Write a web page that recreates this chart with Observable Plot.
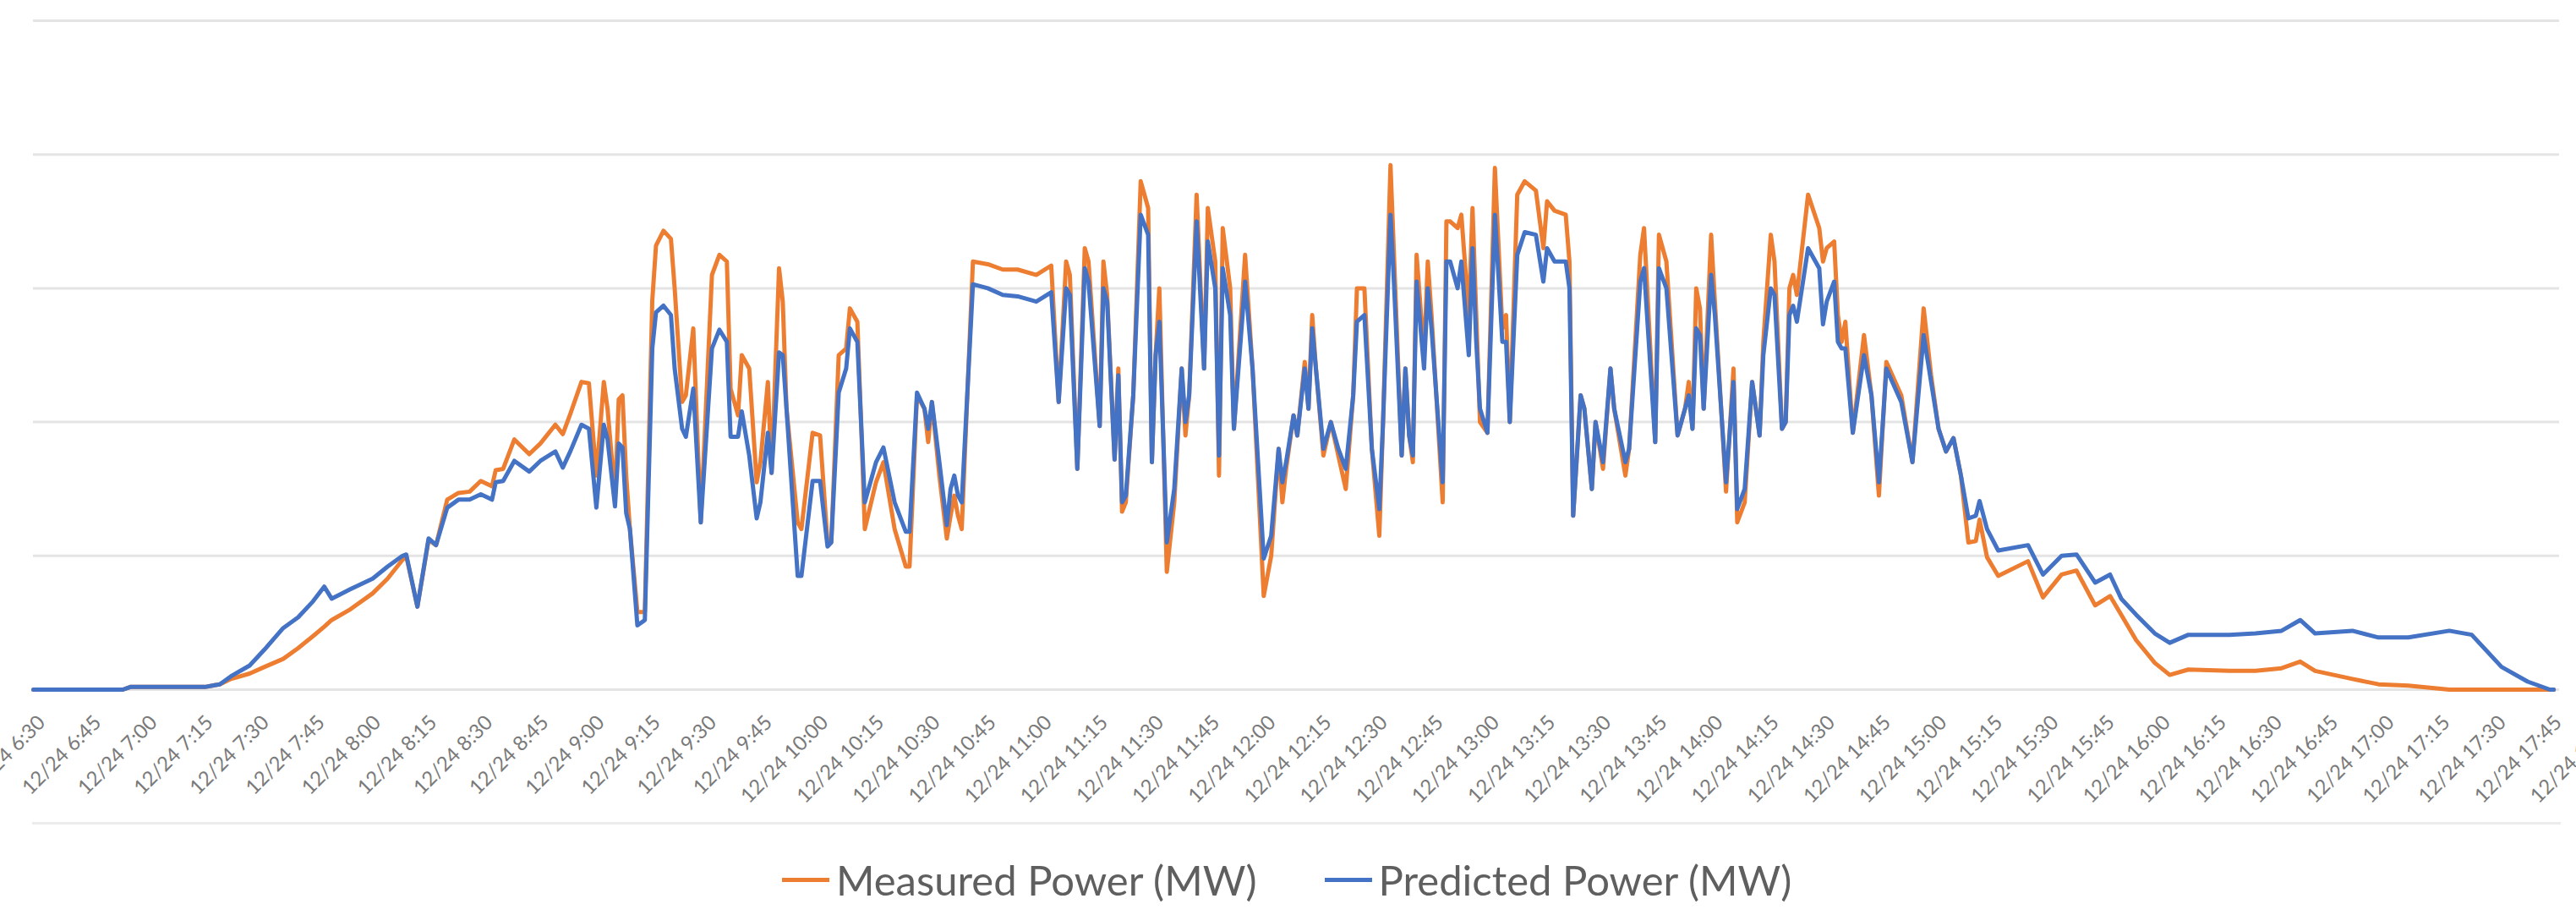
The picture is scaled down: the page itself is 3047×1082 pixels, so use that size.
<!DOCTYPE html>
<html>
<head>
<meta charset="utf-8">
<script src="https://cdn.jsdelivr.net/npm/d3@7"></script>
<script src="https://cdn.jsdelivr.net/npm/@observablehq/plot@0.6"></script>
<style>
  html, body { margin: 0; padding: 0; background: #fff; width: 3047px; height: 1082px; overflow: hidden; }
  #chart svg { display: block; max-width: none; }
  #rule { margin-left: 38px; width: 2991px; height: 0; border-top: 3px solid #ececec; }
  #legend { position: absolute; left: 925px; top: 1010px; display: flex; align-items: center;
            font-family: Lato, "Open Sans", sans-serif; font-size: 49px; color: #5f5f5f; line-height: 60px; }
  .item { display: flex; align-items: center; margin-right: 80px; }
  .sw { width: 56px; height: 5px; margin-right: 8px; }
</style>
</head>
<body>
<div id="chart"></div>
<div id="rule"></div>
<div id="legend"></div>
<script>
// Clock times of the line vertices (12/24)
const times = [
"6:30","6:54","6:56","7:16","7:20","7:23","7:28","7:32","7:37","7:41","7:45","7:48","7:50","7:55",
"8:01","8:05","8:09","8:10","8:13","8:16","8:18","8:21","8:24","8:27","8:30","8:33","8:34","8:36",
"8:39","8:43","8:46","8:50","8:52","8:54","8:57","8:59","9:01","9:03","9:04","9:06","9:07","9:08",
"9:09","9:10","9:12","9:14","9:16","9:17","9:19","9:21","9:22","9:24","9:25","9:27","9:29","9:32",
"9:34","9:36","9:37","9:39","9:40","9:42","9:44","9:45","9:47","9:48","9:50","9:51","9:52","9:55",
"9:56","9:59","10:01","10:03","10:04","10:06","10:08","10:09","10:11","10:12","10:13","10:16","10:18",
"10:21","10:24","10:25","10:27","10:29","10:30","10:31","10:33","10:35","10:36","10:37","10:38","10:39",
"10:42","10:46","10:50","10:54","10:59","11:03","11:05","11:07","11:08","11:10","11:12","11:13","11:16",
"11:17","11:18","11:20","11:21","11:22","11:23","11:25","11:27","11:29","11:30","11:31","11:32","11:34",
"11:36","11:38","11:39","11:40","11:42","11:44","11:45","11:47","11:48","11:49","11:51","11:52","11:55",
"11:57","12:00","12:02","12:04","12:05","12:06","12:08","12:09","12:11","12:12","12:13","12:14","12:16",
"12:18","12:20","12:22","12:24","12:25","12:27","12:29","12:31","12:32","12:34","12:35","12:37","12:38",
"12:39","12:40","12:41","12:43","12:44","12:45","12:48","12:49","12:50","12:52","12:53","12:55","12:56",
"12:57","12:58","13:00","13:02","13:04","13:05","13:06","13:08","13:10","13:13","13:15","13:16","13:18",
"13:21","13:22","13:23","13:25","13:26","13:28","13:29","13:31","13:33","13:34","13:37","13:38","13:41",
"13:42","13:45","13:46","13:48","13:51","13:53","13:54","13:55","13:56","13:57","13:58","14:00","14:01",
"14:04","14:06","14:07","14:09","14:11","14:13","14:14","14:16","14:17","14:19","14:20","14:21","14:22",
"14:23","14:26","14:29","14:30","14:31","14:33","14:34","14:35","14:36","14:38","14:41","14:43","14:45",
"14:47","14:51","14:54","14:57","14:59","15:01","15:03","15:05","15:07","15:09","15:11","15:12","15:14",
"15:17","15:25","15:29","15:34","15:38","15:43","15:47","15:50","15:54","15:59","16:03","16:08","16:19",
"16:26","16:33","16:38","16:42","16:52","16:59","17:07","17:18","17:24","17:32","17:39","17:45","17:46"
];
const measured = [
0,0,0.02,0.02,0.04,0.08,0.12,0.17,0.23,0.31,0.40,0.47,0.52,0.60,
0.72,0.83,0.97,1.00,0.62,1.12,1.08,1.42,1.47,1.48,1.56,1.52,1.64,1.65,
1.87,1.76,1.84,1.98,1.91,2.06,2.30,2.29,1.60,2.30,2.10,1.45,2.17,2.20,
1.60,1.20,0.58,0.58,2.91,3.32,3.43,3.37,3.00,2.15,2.20,2.70,1.25,3.10,
3.25,3.20,2.25,2.05,2.50,2.40,1.55,1.70,2.30,1.62,3.15,2.90,2.10,1.25,
1.20,1.92,1.90,1.10,1.10,2.50,2.55,2.85,2.75,2.00,1.20,1.55,1.70,
1.20,0.92,0.92,2.20,2.10,1.85,2.15,1.60,1.13,1.30,1.45,1.30,1.20,
3.20,3.18,3.14,3.14,3.10,3.17,2.15,3.20,3.10,1.65,3.30,3.20,1.97,
3.20,2.95,1.72,2.40,1.33,1.40,2.20,3.80,3.60,1.70,2.50,3.00,0.88,
1.40,2.40,1.90,2.20,3.70,2.40,3.60,3.20,1.60,3.45,3.00,1.95,3.25,
2.40,0.70,1.00,1.80,1.40,1.65,2.05,1.90,2.45,2.10,2.80,2.40,1.75,
2.00,1.75,1.50,2.20,3.00,3.00,1.80,1.15,2.00,3.92,3.20,1.75,2.40,
1.90,1.70,3.25,2.50,3.20,2.80,1.40,3.50,3.50,3.45,3.55,2.80,3.60,
2.80,2.00,1.92,3.90,2.70,2.80,2.00,3.70,3.80,3.73,3.30,3.65,3.58,
3.55,3.20,1.30,2.20,2.10,1.50,2.00,1.65,2.40,2.10,1.60,1.80,3.25,
3.45,1.85,3.40,3.20,1.90,2.10,2.30,1.95,3.00,2.85,2.10,3.40,2.90,
1.48,2.40,1.25,1.40,2.30,1.90,2.60,3.40,3.20,1.95,2.00,3.00,3.10,
2.95,3.70,3.45,3.20,3.30,3.35,2.80,2.60,2.75,1.92,2.65,2.20,1.45,
2.45,2.20,1.70,2.85,2.35,1.95,1.78,1.88,1.60,1.10,1.11,1.27,0.99,
0.85,0.96,0.69,0.86,0.89,0.63,0.70,0.56,0.37,0.20,0.11,0.15,0.14,
0.14,0.16,0.21,0.14,0.08,0.04,0.03,0,0,0,0,0,0
];
const predicted = [
0,0,0.02,0.02,0.04,0.10,0.18,0.30,0.46,0.54,0.66,0.77,0.68,0.75,
0.83,0.92,1.00,1.01,0.62,1.13,1.08,1.36,1.42,1.42,1.46,1.42,1.55,1.56,
1.71,1.63,1.71,1.78,1.66,1.78,1.98,1.95,1.36,1.98,1.87,1.37,1.84,1.81,
1.32,1.20,0.48,0.52,2.55,2.82,2.87,2.80,2.40,1.95,1.89,2.25,1.25,2.55,
2.69,2.60,1.89,1.89,2.08,1.75,1.28,1.40,1.92,1.62,2.52,2.50,2.10,0.85,
0.85,1.56,1.56,1.07,1.10,2.22,2.40,2.70,2.60,2.00,1.40,1.70,1.81,
1.40,1.18,1.18,2.22,2.10,1.95,2.15,1.70,1.23,1.50,1.60,1.45,1.40,
3.03,3.00,2.95,2.94,2.90,2.97,2.15,3.00,2.95,1.65,3.15,3.05,1.97,
3.00,2.90,1.72,2.35,1.40,1.45,2.20,3.55,3.40,1.70,2.50,2.75,1.10,
1.50,2.40,2.00,2.20,3.50,2.40,3.35,3.00,1.75,3.15,2.80,1.95,3.05,
2.40,0.98,1.15,1.80,1.55,1.70,2.05,1.90,2.40,2.10,2.70,2.40,1.80,
2.00,1.80,1.65,2.20,2.75,2.80,1.80,1.35,2.00,3.55,3.00,1.75,2.40,
1.90,1.75,3.05,2.40,3.00,2.70,1.55,3.20,3.20,3.00,3.20,2.50,3.30,
2.60,2.10,1.92,3.55,2.60,2.60,2.00,3.25,3.42,3.40,3.05,3.30,3.20,
3.20,3.00,1.30,2.20,2.10,1.50,2.00,1.70,2.40,2.10,1.70,1.80,3.05,
3.15,1.85,3.15,3.00,1.90,2.10,2.20,1.95,2.70,2.65,2.10,3.10,2.80,
1.55,2.30,1.35,1.50,2.30,1.90,2.50,3.00,2.95,1.95,2.00,2.80,2.87,
2.75,3.30,3.15,2.73,2.90,3.05,2.60,2.55,2.55,1.92,2.50,2.20,1.55,
2.40,2.15,1.70,2.65,2.30,1.95,1.78,1.88,1.60,1.28,1.30,1.41,1.20,
1.04,1.08,0.86,1.00,1.01,0.80,0.86,0.68,0.56,0.42,0.35,0.41,0.41,
0.42,0.44,0.52,0.42,0.44,0.39,0.39,0.44,0.41,0.17,0.06,0,0
];
const tickLabels = [
"6:30","6:45","7:00","7:15","7:30","7:45","8:00","8:15","8:30","8:45","9:00","9:15","9:30","9:45",
"10:00","10:15","10:30","10:45","11:00","11:15","11:30","11:45","12:00","12:15","12:30","12:45",
"13:00","13:15","13:30","13:45","14:00","14:15","14:30","14:45","15:00","15:15","15:30","15:45",
"16:00","16:15","16:30","16:45","17:00","17:15","17:30","17:45","18:00"
];
const yTicks = [0, 1, 2, 3, 4, 5];
const seriesNames = ["Measured Power (MW)", "Predicted Power (MW)"];
const seriesColors = ["#ED7D31", "#4472C4"];

const parse = s => { const [h, m] = s.split(":").map(Number); return new Date(Date.UTC(2021, 11, 24, h, m)); };
const data = times.map((t, i) => ({time: parse(t), measured: measured[i], predicted: predicted[i]}));
const tickDates = tickLabels.map(parse);
const fmt = d3.utcFormat("%m/%d %-H:%M");
const pxPerMinute = 4.41;
const spanMinutes = (tickDates[tickDates.length - 1] - tickDates[0]) / 60000;

const chart = Plot.plot({
  width: 3047,
  height: 972,
  marginLeft: 39,
  marginRight: 20,
  marginTop: 24,
  marginBottom: 157,
  style: {fontFamily: "Lato, 'Open Sans', sans-serif", background: "white", overflow: "hidden"},
  x: {type: "utc", domain: [tickDates[0], tickDates[tickDates.length - 1]], range: [39, 39 + spanMinutes * pxPerMinute]},
  y: {domain: [0, 5], axis: null},
  marks: [
    Plot.ruleY(yTicks, {stroke: "#e4e4e4", strokeWidth: 3}),
    Plot.axisX({ticks: tickDates, tickFormat: fmt, tickRotate: -45, tickSize: 0, tickPadding: 35, dx: 10, fontSize: 24, color: "#7a7a7a"}),
    Plot.line(data, {x: "time", y: "measured", stroke: seriesColors[0], strokeWidth: 5}),
    Plot.line(data, {x: "time", y: "predicted", stroke: seriesColors[1], strokeWidth: 5})
  ]
});
document.getElementById("chart").appendChild(chart);

const legend = document.getElementById("legend");
seriesNames.forEach((name, i) => {
  const item = document.createElement("div");
  item.className = "item";
  const sw = document.createElement("span");
  sw.className = "sw";
  sw.style.background = seriesColors[i];
  const label = document.createElement("span");
  label.textContent = name;
  item.appendChild(sw);
  item.appendChild(label);
  legend.appendChild(item);
});
</script>
</body>
</html>
